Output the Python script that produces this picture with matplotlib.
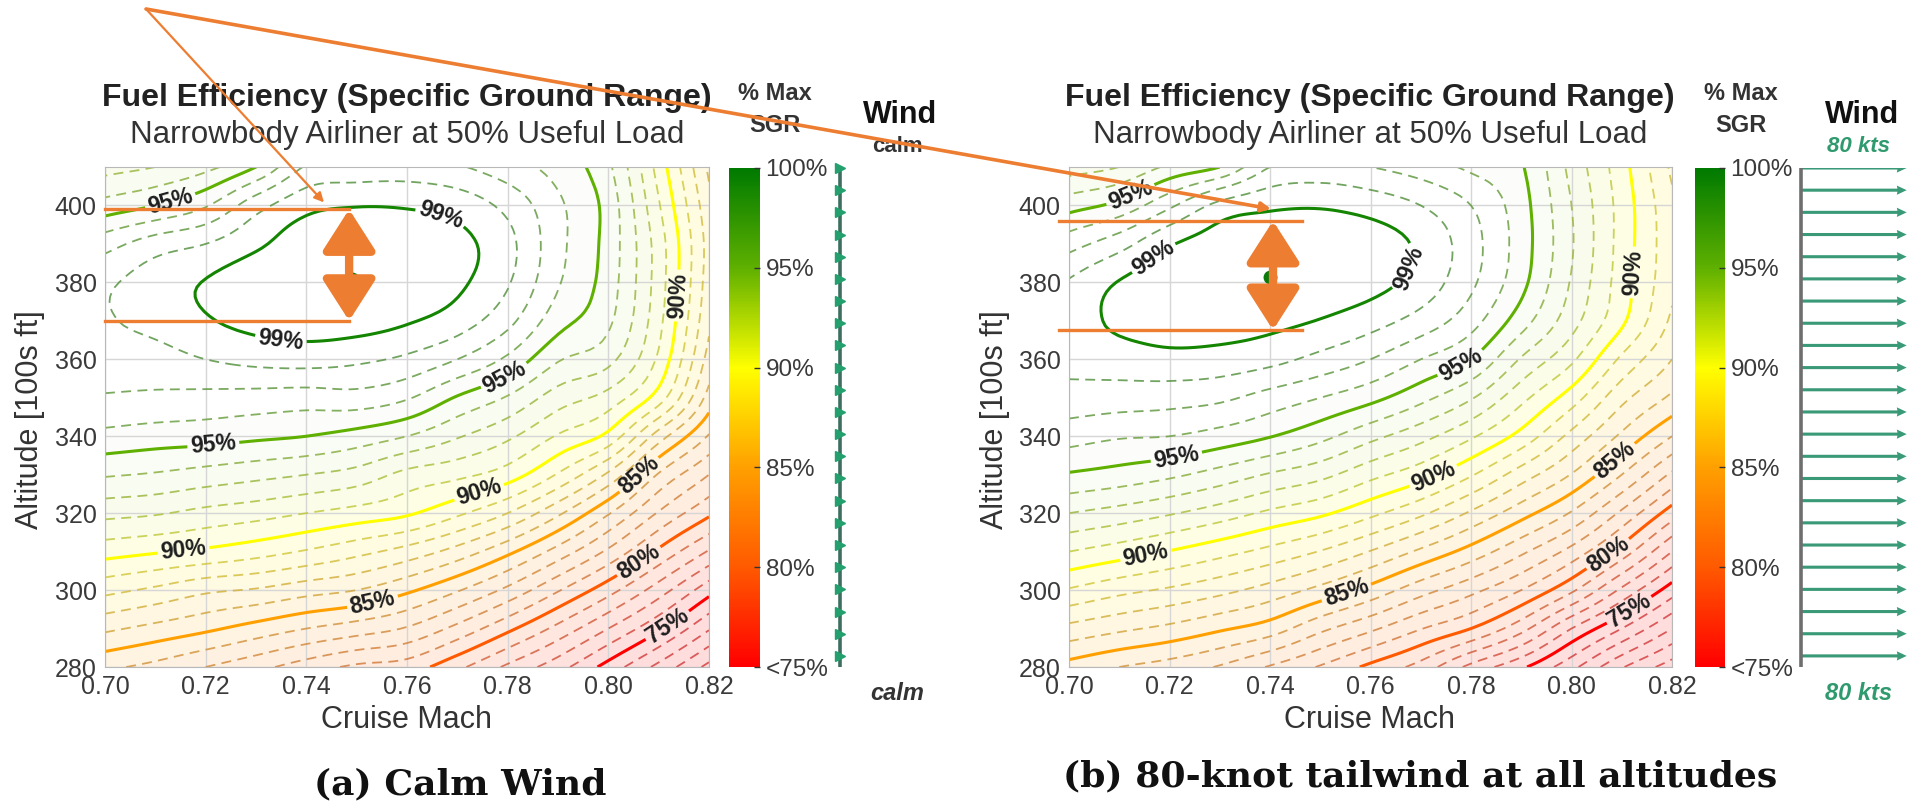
import numpy as np
import matplotlib
matplotlib.use('Agg')
import matplotlib.pyplot as plt
from matplotlib.colors import LinearSegmentedColormap, Normalize, to_rgb
from matplotlib.cm import ScalarMappable
from matplotlib.patches import FancyArrowPatch, ConnectionPatch

plt.rcParams['font.family'] = ['Liberation Sans', 'DejaVu Sans']
plt.rcParams['lines.dashed_pattern'] = [5.5, 3.5]

# grid of the maps
mach = [0.70, 0.71, 0.72, 0.73, 0.74, 0.75, 0.76, 0.77, 0.78, 0.79, 0.80, 0.81, 0.82]
alt = [280, 290, 300, 310, 320, 330, 340, 350, 360, 370, 380, 390, 400, 410]

# % of max SGR, one list per Mach column (altitude 280 -> 410)
sgr_calm = [
    [84.2, 86.2, 88.3, 90.4, 92.3, 94.1, 95.7, 96.9, 97.5, 97.9, 97.8, 96.6, 94.4, 92.6],
    [83.7, 85.7, 87.8, 90.1, 92.1, 93.9, 95.5, 96.8, 97.6, 98.3, 98.5, 97.5, 95.0, 93.0],
    [83.0, 85.2, 87.2, 89.8, 91.7, 93.6, 95.4, 96.7, 98.0, 98.9, 99.05, 98.0, 95.9, 93.7],
    [82.3, 84.6, 86.9, 89.4, 91.4, 93.3, 95.2, 96.6, 98.3, 99.3, 99.6, 98.8, 97.6, 95.0],
    [81.5, 84.0, 86.4, 88.9, 91.0, 93.0, 95.0, 96.5, 98.4, 99.5, 99.9, 99.6, 98.7, 97.1],
    [80.8, 83.5, 86.0, 88.3, 90.6, 92.6, 94.6, 96.6, 98.2, 99.45, 100.0, 99.8, 98.95, 97.3],
    [80.5, 82.9, 85.2, 87.6, 90.15, 91.7, 94.0, 96.1, 97.8, 99.1, 99.75, 99.7, 98.9, 97.4],
    [79.25, 81.7, 84.1, 86.6, 89.2, 91.25, 93.1, 94.9, 97.0, 98.5, 99.2, 99.3, 98.6, 97.1],
    [77.8, 80.25, 82.75, 85.25, 88.0, 90.5, 92.2, 93.9, 95.8, 97.3, 98.1, 98.3, 97.7, 96.4],
    [76.4, 78.7, 81.1, 83.6, 86.2, 88.9, 90.9, 92.5, 94.1, 95.4, 96.1, 96.3, 96.2, 95.6],
    [74.6, 77.0, 79.4, 81.8, 84.1, 86.8, 89.7, 91.6, 93.3, 94.2, 94.5, 94.6, 94.6, 94.2],
    [72.7, 75.2, 77.5, 79.8, 81.9, 83.9, 86.5, 89.5, 90.8, 91.3, 91.5, 91.5, 91.1, 90.6],
    [70.7, 73.1, 75.4, 77.9, 80.2, 82.0, 83.9, 85.6, 86.6, 87.2, 87.5, 87.6, 87.3, 86.8],
]
sgr_tail = [
    [84.6, 86.7, 88.9, 91.0, 93.0, 94.9, 96.4, 97.6, 98.3, 98.5, 98.1, 96.6, 94.6, 92.5],
    [84.0, 86.2, 88.3, 90.5, 92.6, 94.6, 96.1, 97.5, 98.5, 99.2, 99.05, 97.6, 95.3, 93.0],
    [83.55, 85.75, 87.85, 89.95, 92.1, 94.2, 96.0, 97.4, 98.7, 99.5, 99.6, 98.9, 96.8, 94.2],
    [82.9, 85.15, 87.3, 89.35, 91.5, 93.6, 95.6, 97.2, 98.6, 99.5, 99.9, 99.5, 98.3, 95.0],
    [81.9, 84.5, 86.6, 88.7, 90.8, 92.9, 95.05, 96.6, 98.3, 99.3, 100.0, 99.8, 98.8, 97.0],
    [80.9, 83.25, 85.7, 87.95, 90.2, 92.3, 94.3, 96.0, 97.7, 98.95, 99.7, 99.7, 98.9, 97.3],
    [79.75, 82.2, 84.65, 86.95, 89.25, 91.3, 93.3, 95.3, 97.0, 98.4, 99.35, 99.5, 98.6, 97.0],
    [78.6, 81.05, 83.4, 85.8, 88.2, 90.4, 92.35, 94.3, 96.0, 97.6, 98.6, 98.8, 98.0, 96.5],
    [76.7, 80.0, 82.3, 84.6, 86.85, 89.1, 91.15, 93.1, 95.0, 96.4, 97.2, 97.4, 97.0, 95.8],
    [75.2, 78.35, 81.0, 83.2, 85.4, 87.5, 89.65, 91.3, 92.9, 94.45, 95.3, 95.5, 95.4, 95.1],
    [73.3, 76.0, 79.2, 81.65, 83.9, 85.95, 87.7, 89.5, 91.2, 92.4, 92.9, 93.1, 93.0, 92.7],
    [71.1, 74.0, 76.8, 79.55, 81.8, 84.0, 85.8, 87.3, 88.8, 90.2, 90.5, 90.6, 90.6, 90.4],
    [69.5, 72.0, 74.5, 77.0, 79.5, 81.8, 84.0, 85.8, 87.0, 87.8, 88.2, 88.3, 88.2, 87.8],
]

# optimum (Mach, altitude) and the 99% band marked in orange
peak_calm = (0.749, 381)
peak_tail = (0.740, 381.5)
band_calm = (0.700, 0.7485, 0.7485, 370.0, 399.0)
band_tail = (0.698, 0.7464, 0.7406, 367.6, 396.0)
target_calm = (0.7435, 400.8)
target_tail = (0.7402, 399.1)

# wind profile, 23 levels
wind_calm = [0] * 23
wind_tail = [80] * 23

solid_lv = [75, 80, 85, 90, 95, 99]
lab_calm = [(0.7667, 397.4), (0.735, 365.7), (0.713, 401.0), (0.7795, 355.2), (0.7217, 335.2),
            (0.8147, 376.5), (0.774, 327.0), (0.7157, 308.7), (0.7533, 296.0), (0.807, 328.7),
            (0.8063, 307.0), (0.8117, 290.9)]
lab_tail = [(0.718, 384.3), (0.768, 383.5), (0.712, 403.5), (0.778, 358.7), (0.7216, 333.0),
            (0.812, 382.6), (0.7728, 328.7), (0.7156, 307.0), (0.7553, 299.0), (0.8077, 335.2),
            (0.8059, 312.0), (0.8107, 296.5)]

W, H = 1908, 808
orange = '#ED7D31'
cmap = LinearSegmentedColormap.from_list('sgr', [(0, '#ff0000'), (0.2, '#ff5a00'), (0.4, '#ffa000'),
                                                 (0.6, '#ffff00'), (0.8, '#5fb000'), (1.0, '#007a00')])
norm = Normalize(75, 100, clip=True)

fig = plt.figure(figsize=(W / 100, H / 100), dpi=100)


def box(x0, y0, x1, y1):
    return [x0 / W, 1 - y1 / H, (x1 - x0) / W, (y1 - y0) / H]


def ftext(x, y, s, **kw):
    return fig.text(x / W, 1 - y / H, s, ha='center', va='center', **kw)


def cubic_fine(z, n, axis):
    # Catmull-Rom resampling of the table for smooth contour drawing
    z = np.moveaxis(z, axis, 0)
    m = z.shape[0]
    zp = np.concatenate([2 * z[:1] - z[1:2], z, 2 * z[-1:] - z[-2:-1]], axis=0)
    t = np.linspace(0, m - 1, (m - 1) * n + 1)
    i = np.minimum(np.floor(t).astype(int), m - 2)
    s = (t - i).reshape(-1, *([1] * (z.ndim - 1)))
    p0, p1, p2, p3 = zp[i], zp[i + 1], zp[i + 2], zp[i + 3]
    out = 0.5 * (2 * p1 + (p2 - p0) * s + (2 * p0 - 5 * p1 + 4 * p2 - p3) * s ** 2
                 + (3 * p1 - p0 - 3 * p2 + p3) * s ** 3)
    return np.moveaxis(out, 0, axis)


def blend(c, a, base=(1, 1, 1)):
    c = np.array(to_rgb(c))
    return tuple((1 - a) * np.array(base) + a * c)


def draw_map(ax, cols, labels, peak, band):
    n = 8
    z = np.array(cols).T
    zf = cubic_fine(cubic_fine(z, n, 0), n, 1)
    xf = np.linspace(mach[0], mach[-1], (len(mach) - 1) * n + 1)
    yf = np.linspace(alt[0], alt[-1], (len(alt) - 1) * n + 1)

    fill_lv = np.arange(60, 103, 1.0)
    fill_cols = [blend(cmap(norm(v + 0.5)), np.interp(v, [60, 90, 96, 100], [0.15, 0.11, 0.0, 0.0]))
                 for v in fill_lv[:-1]]
    ax.contourf(xf, yf, zf, levels=fill_lv, colors=fill_cols, zorder=0.5)
    dash_lv = [v for v in range(60, 99) if v not in solid_lv]
    dash_cols = [blend(cmap(norm(v)), 0.6, base=(0.55, 0.55, 0.55)) for v in dash_lv]
    ax.contour(xf, yf, zf, levels=dash_lv, colors=dash_cols, linewidths=1.3,
               linestyles='dashed', alpha=0.8)
    cs = ax.contour(xf, yf, zf, levels=solid_lv, colors=[cmap(norm(v)) for v in solid_lv],
                    linewidths=2.2)
    txt = ax.clabel(cs, manual=labels, inline=True, fmt=lambda v: f'{v:.0f}%',
                    fontsize=16.5, colors='#1e1e1e', inline_spacing=3)
    for t in txt:
        t.set_fontweight('bold')
    ax.plot(*peak, 'o', color='#0a7a0a', ms=9, zorder=4)

    ax.set_xlim(0.70, 0.82)
    ax.set_ylim(280, 410)
    ax.set_xticks([0.70, 0.72, 0.74, 0.76, 0.78, 0.80, 0.82])
    ax.set_xticklabels([f'{v:.2f}' for v in ax.get_xticks()])
    ax.set_yticks([280, 300, 320, 340, 360, 380, 400])
    ax.tick_params(length=0, labelsize=18, labelcolor='#3a3a3a', pad=6)
    ax.grid(True, color='#d6d6d6', lw=1.0)
    for s in ax.spines.values():
        s.set_color('#b8b8b8')

    m0, m1, ma, lo, hi = band
    for a in (lo, hi):
        ax.plot([m0, m1], [a, a], color=orange, lw=2.4, zorder=6, clip_on=False)
    arr = FancyArrowPatch((ma, lo), (ma, hi), arrowstyle='<|-|>,head_length=1.25,head_width=0.8',
                          mutation_scale=20, lw=6, color=orange, shrinkA=0, shrinkB=0,
                          zorder=7, clip_on=False)
    ax.add_patch(arr)


def draw_cbar(cax):
    cb = fig.colorbar(ScalarMappable(norm=norm, cmap=cmap), cax=cax, ticks=[75, 80, 85, 90, 95, 100])
    cb.ax.set_yticklabels(['<75%', '80%', '85%', '90%', '95%', '100%'])
    cb.outline.set_visible(False)
    cax.tick_params(length=4, width=1, direction='in', color='#333333', labelsize=17.5,
                    labelcolor='#3a3a3a', pad=4)


def draw_wind(wax, wind, line_col):
    lev = np.arange(len(wind))
    wax.set_xlim(-2, 81)
    wax.set_ylim(-0.5, 22.0)
    wax.axis('off')
    wax.axvline(0, color=line_col, lw=2.6)
    if max(wind) == 0:
        wax.plot(wind, lev, '>', color='#23a06e', ms=7, clip_on=False)
    else:
        wax.quiver(np.zeros(len(wind)), lev, wind, np.zeros(len(wind)), angles='xy',
                   scale_units='xy', scale=1, color='#3a9a78', width=0.028,
                   headwidth=3.0, headlength=3.2, headaxislength=3.0)


ax_a = fig.add_axes(box(105, 167, 709, 667))
cax_a = fig.add_axes(box(729, 168, 760, 667))
wax_a = fig.add_axes(box(837, 168, 945, 667))
ax_b = fig.add_axes(box(1069, 167, 1672, 667))
cax_b = fig.add_axes(box(1695, 168, 1725, 667))
wax_b = fig.add_axes(box(1798, 168, 1908, 667))

draw_map(ax_a, sgr_calm, lab_calm, peak_calm, band_calm)
draw_map(ax_b, sgr_tail, lab_tail, peak_tail, band_tail)
draw_cbar(cax_a)
draw_cbar(cax_b)
draw_wind(wax_a, wind_calm, '#3d6e60')
draw_wind(wax_b, wind_tail, '#6e6e6e')

for cx, ccb, cw, word, wcol in [(407, 775, 900, 'calm', '#333333'), (1370, 1741, 1862, '80 kts', '#2f9a6e')]:
    ftext(cx, 98, 'Fuel Efficiency (Specific Ground Range)', fontsize=23, fontweight='bold', color='#222222')
    ftext(cx, 135, 'Narrowbody Airliner at 50% Useful Load', fontsize=22.5, color='#333333')
    ftext(cx, 720, 'Cruise Mach', fontsize=22, color='#333333')
    ftext(ccb, 93, '% Max', fontsize=17, fontweight='bold', color='#333333')
    ftext(ccb, 125, 'SGR', fontsize=17, fontweight='bold', color='#333333')
    ftext(cw, 115, 'Wind', fontsize=22, fontweight='bold', color='#111111')
    top_style = 'italic' if word != 'calm' else 'normal'
    ftext(cw - 3, 146, word, fontsize=16, fontweight='bold', style=top_style, color=wcol)
    ftext(cw - 3, 693, word, fontsize=17, fontweight='bold', style='italic', color=wcol)

ftext(30, 420, 'Altitude [100s ft]', fontsize=22, rotation=90, color='#333333')
ftext(995, 420, 'Altitude [100s ft]', fontsize=22, rotation=90, color='#333333')

ftext(460, 784, '(a) Calm Wind', fontsize=26, fontweight='bold', family='DejaVu Serif', color='#111111')
ftext(1420, 776, '(b) 80-knot tailwind at all altitudes', fontsize=26, fontweight='bold',
      family='DejaVu Serif', color='#111111')

# orange call-out lines from a common point
origin = (146 / W, 1 - 9 / H)
for ax, tgt, lw in [(ax_a, target_calm, 1.6), (ax_b, target_tail, 2.6)]:
    con = ConnectionPatch(xyA=origin, coordsA='figure fraction', xyB=tgt, coordsB=ax.transData,
                          arrowstyle='-|>', color=orange, lw=lw, mutation_scale=14,
                          shrinkA=0, shrinkB=0)
    con.set_zorder(10)
    fig.add_artist(con)

fig.savefig('out.png', dpi=100)
